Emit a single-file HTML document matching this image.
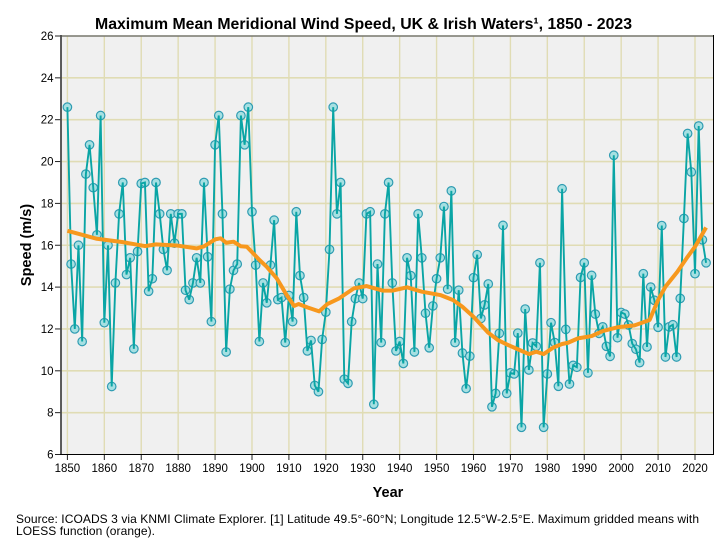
<!DOCTYPE html>
<html lang="en">
<head>
<meta charset="utf-8">
<title>Maximum Mean Meridional Wind Speed</title>
<style>
html,body{margin:0;padding:0;background:#fff;width:728px;height:545px;overflow:hidden}
svg{display:block}
text{font-family:"Liberation Sans",sans-serif;fill:#000}
</style>
</head>
<body>
<svg id="chart" width="728" height="545" viewBox="0 0 728 545" xmlns="http://www.w3.org/2000/svg">
  <text x="363.5" y="29" text-anchor="middle" font-size="16" font-weight="bold" textLength="537" lengthAdjust="spacingAndGlyphs">Maximum Mean Meridional Wind Speed, UK &amp; Irish Waters¹, 1850 - 2023</text>
  <rect x="61" y="36" width="652.5" height="418.5" fill="#f0f0f0"/>
  <g id="grid"></g>
  <g id="axes"></g>
  <g id="markers"></g>
  <g id="lines"></g>
  <text transform="translate(31,245) rotate(-90)" text-anchor="middle" font-size="14.5" font-weight="bold">Speed (m/s)</text>
  <text x="388" y="497" text-anchor="middle" font-size="14.5" font-weight="bold">Year</text>
  <text x="16" y="523" font-size="12" fill="#111" textLength="683" lengthAdjust="spacing">Source: ICOADS 3 via KNMI Climate Explorer. [1] Latitude 49.5°-60°N; Longitude 12.5°W-2.5°E. Maximum gridded means with</text>
  <text x="16" y="535" font-size="12" fill="#111" textLength="139" lengthAdjust="spacing">LOESS function (orange).</text>
</svg>
<script>
const startYear = 1850;
const speeds = [
22.6,15.1,12.0,16.0,11.4,19.4,20.8,18.75,16.5,22.2,
12.3,16.0,9.25,14.2,17.5,19.0,14.6,15.4,11.05,15.7,
18.95,19.0,13.8,14.4,19.0,17.5,15.8,14.8,17.5,16.1,
17.5,17.5,13.85,13.4,14.2,15.4,14.2,19.0,15.45,12.35,
20.8,22.2,17.5,10.9,13.9,14.8,15.1,22.2,20.8,22.6,
17.6,15.05,11.4,14.2,13.25,15.05,17.2,13.4,13.5,11.35,
13.6,12.35,17.6,14.55,13.5,10.95,11.45,9.3,9.0,11.5,
12.8,15.8,22.6,17.5,19.0,9.6,9.4,12.35,13.45,14.2,
13.45,17.5,17.6,8.4,15.1,11.35,17.5,19.0,14.2,10.95,
11.4,10.35,15.4,14.55,10.9,17.5,15.4,12.75,11.1,13.1,
14.4,15.4,17.85,13.9,18.6,11.35,13.85,10.85,9.15,10.7,
14.45,15.55,12.5,13.15,14.15,8.28,8.92,11.79,16.95,8.92,
9.9,9.85,11.8,7.3,12.95,10.04,11.33,11.17,15.16,7.3,
9.85,12.3,11.35,9.26,18.7,11.98,9.37,10.26,10.17,14.46,
15.16,9.9,14.56,12.71,11.79,12.1,11.17,10.69,20.3,11.58,
12.79,12.71,12.19,11.3,11.03,10.39,14.64,11.14,14.0,13.37,
12.08,16.94,10.66,12.1,12.2,10.66,13.46,17.28,21.34,19.5,
14.64,21.7,16.26,15.16
];
const loessYears = [1850,1858,1865,1871,1874,1880,1885,1887,1890,1891.5,1893,1895,1897,1898.6,1900.4,1902,1904,1906.7,1909.4,1911.4,1912.6,1915,1918.2,1920.4,1923.6,1927.6,1931,1935.5,1938,1942,1946,1951,1954.5,1957,1960,1964,1966.6,1969.4,1972,1975,1977,1979,1981.7,1984,1985.6,1988.3,1992,1995,1999,2003.6,2007.7,2010,2012,2015.2,2018,2020,2023];
const loessValues = [16.69,16.31,16.15,15.96,16.04,15.98,15.85,15.95,16.28,16.33,16.12,16.17,15.95,15.93,15.6,15.3,14.97,14.42,13.62,13.1,13.19,13.03,12.84,13.19,13.46,13.94,14.05,13.83,13.83,13.99,13.78,13.62,13.38,13.06,12.58,11.82,11.47,11.23,11.03,10.8,10.91,10.8,11.12,11.28,11.34,11.55,11.66,11.9,12.08,12.17,12.43,13.38,14.02,14.73,15.45,15.93,16.85];
const yTicks = [6,8,10,12,14,16,18,20,22,24,26];
const xTicks = [1850,1860,1870,1880,1890,1900,1910,1920,1930,1940,1950,1960,1970,1980,1990,2000,2010,2020];

const SVGNS = 'http://www.w3.org/2000/svg';
function xScale(year){ return 67.4 + (year - 1850) * (695 - 67.4) / 170; }
function yScale(v){ return 454.5 - (v - 6) * (454.5 - 36) / 20; }
function mk(tag, parent, attrs){
  const el = document.createElementNS(SVGNS, tag);
  for (const k in attrs) el.setAttribute(k, attrs[k]);
  parent.appendChild(el);
  return el;
}
const grid = document.getElementById('grid');
const axes = document.getElementById('axes');
const markers = document.getElementById('markers');
const lines = document.getElementById('lines');

yTicks.forEach(function(t){
  const y = yScale(t);
  if (t !== 6 && t !== 26) {
    const g = mk('line', grid, {x1:61, x2:713, y1:y, y2:y, stroke:'#e0dcb4', 'stroke-width':1.6});
    
    
  }
  const tick = mk('line', axes, {x1:55, x2:61, y1:y, y2:y, stroke:'#222', 'stroke-width':1});
  
  
  const lab = mk('text', axes, {x:53.5, y:y + 4, 'text-anchor':'end', 'font-size':11.5});
  lab.textContent = t;
  
  
});
xTicks.forEach(function(t){
  const x = xScale(t);
  const g = mk('line', grid, {x1:x, x2:x, y1:36, y2:454.5, stroke:'#e0dcb4', 'stroke-width':1.4});
  
  
  const tick = mk('line', axes, {x1:x, x2:x, y1:454.5, y2:460, stroke:'#222', 'stroke-width':1});
  
  
  const lab = mk('text', axes, {x:x, y:472, 'text-anchor':'middle', 'font-size':11.5});
  lab.textContent = t;
  
  
});
const topAxis = mk('line', axes, {x1:60, x2:714, y1:36, y2:36, stroke:'#77776c', 'stroke-width':1.6});


const leftAxis = mk('line', axes, {x1:61, x2:61, y1:35, y2:455, stroke:'#4a4a4a', 'stroke-width':1.8});


const bottomAxis = mk('line', axes, {x1:60, x2:714, y1:454.5, y2:454.5, stroke:'#000', 'stroke-width':1});


const rightAxis = mk('line', axes, {x1:713.5, x2:713.5, y1:35, y2:455, stroke:'#000', 'stroke-width':1});



speeds.forEach(function(v, i){
  const c = mk('circle', markers, {cx:xScale(startYear + i), cy:yScale(v), r:4.25, fill:'#a6e0e2', stroke:'#2f9cb2', 'stroke-width':1.2});
  
  
});
const speedLine = mk('polyline', lines, {
  points: speeds.map(function(v, i){ return xScale(startYear + i) + ',' + yScale(v); }).join(' '),
  fill:'none', stroke:'#0aa5a5', 'stroke-width':1.9, 'stroke-linejoin':'miter', 'stroke-miterlimit':3
});


const loessLine = mk('polyline', lines, {
  points: loessYears.map(function(y, i){ return xScale(y) + ',' + yScale(loessValues[i]); }).join(' '),
  fill:'none', stroke:'#f7981d', 'stroke-width':4, 'stroke-linejoin':'round'
});


</script>
</body>
</html>
